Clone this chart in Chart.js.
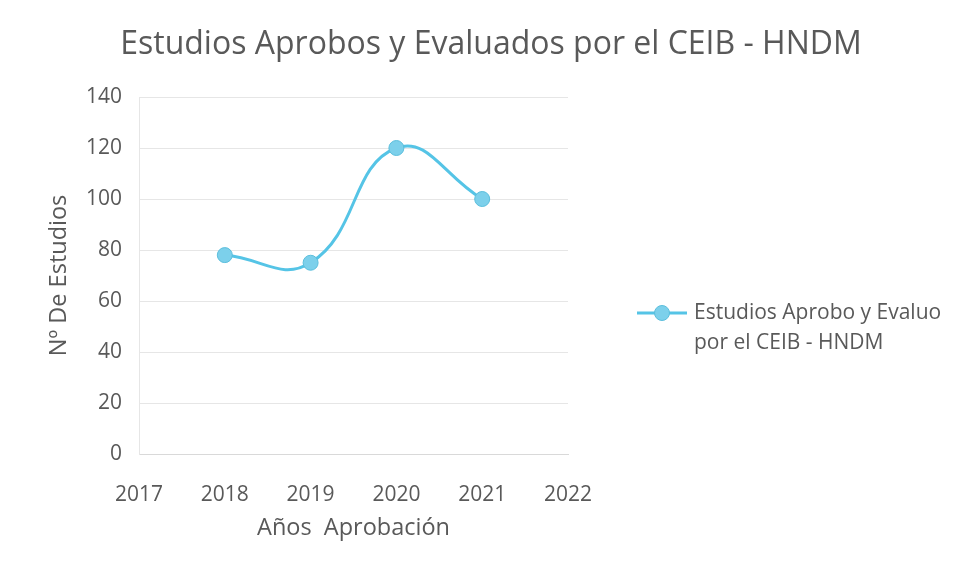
<!DOCTYPE html>
<html>
<head>
<meta charset="utf-8">
<script src="https://cdn.jsdelivr.net/npm/chart.js@4/dist/chart.umd.min.js"></script>
<style>
  html, body { margin: 0; padding: 0; background: #fff; }
  #wrap { width: 960px; height: 577px; }
</style>
</head>
<body>
<div id="wrap"><canvas id="chart" width="960" height="577"></canvas></div>
<script>
// datos
const years = [2018, 2019, 2020, 2021];
const estudios = [78, 75, 120, 100];
const xMin = 2017, xMax = 2022;
const yMin = 0, yMax = 140, yStep = 20;
const chartTitle = 'Estudios Aprobos y Evaluados por el CEIB - HNDM';
const xTitle = 'Años  Aprobación';
const yTitle = 'Nº De Estudios';
const seriesLines = ['Estudios Aprobo y Evaluo', 'por el CEIB - HNDM'];

const FONT = "'Open Sans', 'Noto Sans', sans-serif";
const GREY = '#595959';
const LINE = '#55c4e6';
const MARK = '#7cd0eb';

// titulo centrado en todo el lienzo y leyenda a la derecha (dos lineas)
const decor = {
  id: 'decor',
  afterDraw(chart) {
    const ctx = chart.ctx;
    const ds = chart.data.datasets[0];
    ctx.save();
    ctx.fillStyle = GREY;
    ctx.font = '32px ' + FONT;
    ctx.textAlign = 'center';
    ctx.textBaseline = 'middle';
    ctx.fillText(chartTitle, chart.width / 2 + 11, 45);

    const x0 = chart.chartArea.right + 69;
    const y0 = 313;
    ctx.strokeStyle = ds.borderColor;
    ctx.lineWidth = 3;
    ctx.beginPath();
    ctx.moveTo(x0, y0);
    ctx.lineTo(x0 + 50, y0);
    ctx.stroke();
    ctx.beginPath();
    ctx.arc(x0 + 25, y0, 7.5, 0, Math.PI * 2);
    ctx.fillStyle = ds.pointBackgroundColor;
    ctx.fill();
    ctx.lineWidth = 1;
    ctx.strokeStyle = ds.pointBorderColor;
    ctx.stroke();
    ctx.fillStyle = GREY;
    ctx.font = '21px ' + FONT;
    ctx.textAlign = 'left';
    seriesLines.forEach((t, i) => ctx.fillText(t, x0 + 57, y0 + i * 30));
    ctx.restore();
  }
};

new Chart(document.getElementById('chart'), {
  type: 'line',
  data: {
    datasets: [{
      label: seriesLines.join(' '),
      data: years.map((y, i) => ({ x: y, y: estudios[i] })),
      borderColor: LINE,
      borderWidth: 3,
      pointBackgroundColor: MARK,
      pointBorderColor: '#5bbedc',
      pointBorderWidth: 1,
      pointRadius: 7.5,
      tension: 0.45,
      fill: false
    }]
  },
  options: {
    responsive: false,
    animation: false,
    layout: { padding: { left: 42, right: 392, top: 97, bottom: 35 } },
    plugins: {
      legend: { display: false },
      tooltip: { enabled: false },
      title: { display: false }
    },
    scales: {
      x: {
        type: 'linear',
        min: xMin,
        max: xMax,
        afterFit(scale) { scale.height = 88; },
        ticks: {
          stepSize: 1,
          color: GREY,
          font: { family: FONT, size: 21 },
          padding: 28,
          callback: v => String(v)
        },
        grid: { display: false, drawTicks: false },
        border: { display: true, color: '#d9d9d9' },
        title: {
          display: true,
          text: xTitle,
          color: GREY,
          font: { family: FONT, size: 23.5 },
          padding: { top: 4, bottom: 0 }
        }
      },
      y: {
        min: yMin,
        max: yMax,
        afterFit(scale) { scale.width = 97; },
        ticks: {
          stepSize: yStep,
          color: GREY,
          font: { family: FONT, size: 21 },
          padding: 17
        },
        grid: { color: '#e6e6e6', drawTicks: false },
        border: { display: true, color: '#e6e6e6' },
        title: {
          display: true,
          text: yTitle,
          color: GREY,
          font: { family: FONT, size: 23.5 },
          padding: { top: 3, bottom: 4 }
        }
      }
    }
  },
  plugins: [decor]
});
</script>
</body>
</html>
